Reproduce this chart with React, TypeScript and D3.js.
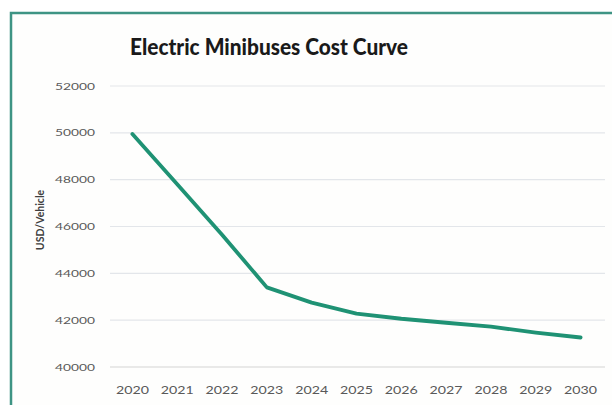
import React from "react";
import * as d3 from "d3";

// Cost per vehicle (USD) for electric minibuses, 2020–2030
const years: string[] = ["2020", "2021", "2022", "2023", "2024", "2025", "2026", "2027", "2028", "2029", "2030"];
const costs: number[] = [49950, 47800, 45650, 43400, 42750, 42280, 42060, 41890, 41720, 41470, 41260];
const yTicks: number[] = [40000, 42000, 44000, 46000, 48000, 50000, 52000];

const W = 612;
const H = 405;

export default function App() {
  const x = d3.scalePoint<string>().domain(years).range([110, 603]).padding(0.5);
  const y = d3.scaleLinear().domain([40000, 52000]).range([367, 86]);

  const line = d3
    .line<number>()
    .x((_, i) => x(years[i]) as number)
    .y((d) => y(d));

  const font = "Lato, 'Open Sans', 'DejaVu Sans', sans-serif";

  return (
    <svg
      width={W}
      height={H}
      style={{ position: "absolute", left: 0, top: 0, background: "#fff" }}
      fontFamily={font}
    >
      {/* chart frame */}
      <rect x={11} y={13} width={W + 20} height={H + 20} fill="#fefefd" stroke="#3e9484" strokeWidth={2.5} />

      {/* title */}
      <text x={269} y={55} textAnchor="middle" fontSize={23} fontWeight={900} fill="#1a1a1a" textLength={278} lengthAdjust="spacingAndGlyphs">
        Electric Minibuses Cost Curve
      </text>

      {/* horizontal gridlines */}
      {yTicks.map((t) => (
        <line key={"g" + t} x1={110} x2={605} y1={y(t)} y2={y(t)} stroke={t === 40000 ? "#d4d4d4" : "#e3e6ea"} strokeWidth={1.2} />
      ))}

      {/* y tick labels */}
      {yTicks.map((t) => (
        <text key={"t" + t} x={95} y={y(t) + 3.5} textAnchor="end" fontSize={9.5} fill="#595959" textLength={40} lengthAdjust="spacingAndGlyphs">
          {t}
        </text>
      ))}

      {/* x tick labels */}
      {years.map((yr) => (
        <text key={"x" + yr} x={x(yr) as number} y={394} textAnchor="middle" fontSize={10.5} fill="#595959" textLength={33} lengthAdjust="spacingAndGlyphs">
          {yr}
        </text>
      ))}

      {/* y axis title */}
      <text
        transform="translate(44,220) rotate(-90)"
        textAnchor="middle"
        fontSize={10.5}
        fontWeight="bold"
        fill="#404040"
      >
        USD/Vehicle
      </text>

      {/* cost curve */}
      <path d={line(costs) ?? ""} fill="none" stroke="#1f9274" strokeWidth={3.8} strokeLinejoin="round" strokeLinecap="round" />
    </svg>
  );
}
